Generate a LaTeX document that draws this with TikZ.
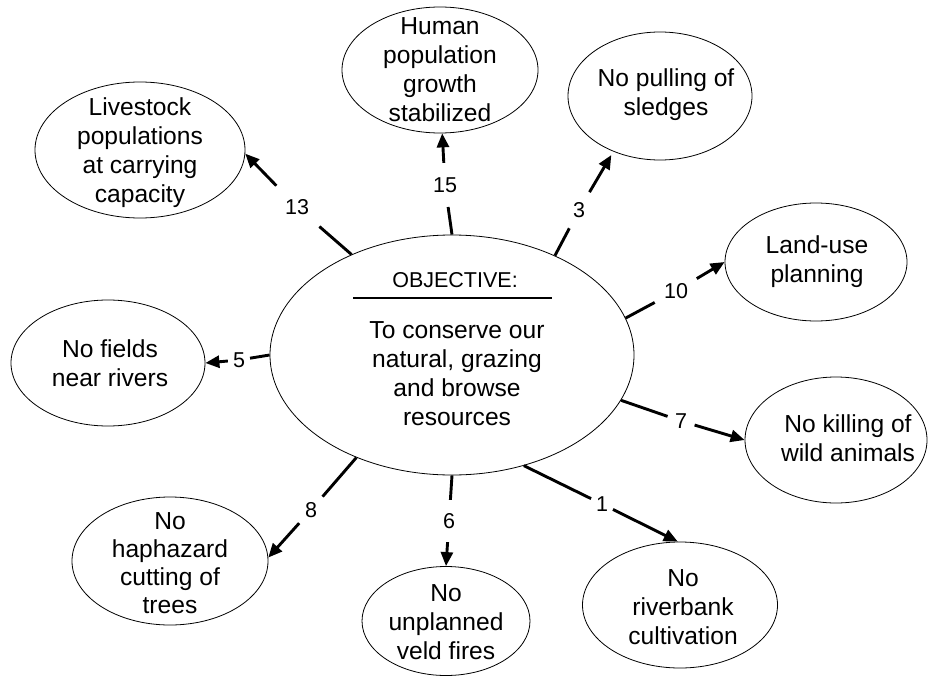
\documentclass[tikz,border=0pt]{standalone}
\usepackage{fontspec}
\setmainfont{Liberation Sans}
\usetikzlibrary{arrows.meta,shapes.geometric}
\begin{document}
\begin{tikzpicture}[x=1pt,y=-1pt,
  bubble/.style={draw, ellipse, line width=0.8pt, inner sep=0pt},
  txt/.style={align=center, font=\fontsize{24.6}{29}\selectfont, inner sep=0pt},
  num/.style={circle, inner sep=0pt, font=\fontsize{21.5}{25}\selectfont},
  link/.style={line width=2.9pt},
  arrowlink/.style={line width=2.9pt, -{Triangle[length=14pt,width=12pt]}}]
\useasboundingbox (0,0) rectangle (928,677);

% central objective
\node[bubble, minimum width=364pt, minimum height=240pt] (obj) at (452,355) {};
\node[font=\fontsize{21.5}{25}\selectfont, inner sep=0pt] (objhead) at (455,280) {OBJECTIVE:};
\draw[line width=1.2pt] (353,298) -- (552,298);
\node[txt] (objtext) at (457,374) {To conserve our\\natural, grazing\\and browse\\resources};

% surrounding outcomes
\node[bubble, minimum width=210pt, minimum height=136pt] (live) at (140,150) {};
\node[txt] (tlive) at (140,153) {Livestock\\populations\\at carrying\\capacity};

\node[bubble, minimum width=196pt, minimum height=126pt] (human) at (440,70) {};
\node[txt] (thuman) at (440,70) {Human\\population\\growth\\stabilized};

\node[bubble, minimum width=184pt, minimum height=128pt] (sledge) at (660,96) {};
\node[txt] (tsledge) at (666,95) {No pulling of\\sledges};

\node[bubble, minimum width=182pt, minimum height=118pt] (land) at (816,262) {};
\node[txt] (tland) at (817,262) {Land-use\\planning};

\node[bubble, minimum width=194pt, minimum height=126pt] (fields) at (108,363) {};
\node[txt] (tfields) at (110,363) {No fields\\near rivers};

\node[bubble, minimum width=182pt, minimum height=126pt] (kill) at (836,440) {};
\node[txt] (tkill) at (848,438) {No killing of\\wild animals};

\node[bubble, minimum width=196pt, minimum height=128pt] (hap) at (170,561) {};
\node[txt, font=\fontsize{24.6}{28}\selectfont] (thap) at (170,563) {No\\haphazard\\cutting of\\trees};

\node[bubble, minimum width=168pt, minimum height=109pt] (veld) at (446,621) {};
\node[txt] (tveld) at (446,622) {No\\unplanned\\veld fires};

\node[bubble, minimum width=195pt, minimum height=126pt] (river) at (680,605) {};
\node[txt] (triver) at (683,607) {No\\riverbank\\cultivation};

% connector labels
\node[num, minimum size=59pt] (l13) at (297,207) {13};
\node[num, minimum size=44pt] (l15) at (445,185) {15};
\node[num, minimum size=41pt] (l3)  at (579,210) {3};
\node[num, minimum size=48pt] (l10) at (676,291) {10};
\node[num, minimum size=22pt] (l5)  at (239,360) {5};
\node[num, minimum size=28pt] (l7)  at (681,421) {7};
\node[num, minimum size=35pt] (l8)  at (311,510) {8};
\node[num, minimum size=42pt] (l6)  at (449,521) {6};
\node[num, minimum size=24pt] (l1)  at (602,504) {1};

% connectors
\draw[link] (obj.135) -- (l13);  \draw[arrowlink] (l13) -- (live.-2);
\draw[link] (obj.90) -- (l15);   \draw[arrowlink] (l15) -- (human.-88);
\draw[link] (obj.44) -- (l3);    \draw[arrowlink, shorten >=4pt] (l3) -- (sledge.-130);
\draw[link] (obj.12) -- (l10);   \draw[arrowlink] (l10) -- (land.180);
\draw[link] (obj.180) -- (l5);   \draw[arrowlink] (l5) -- (fields.0);
\draw[link] (obj.-15) -- (l7);   \draw[arrowlink] (l7) -- (kill.180);
\draw[link] (obj.-133) -- (l8);  \draw[arrowlink] (l8) -- (hap.2);
\draw[link] (obj.-90) -- (l6);   \draw[arrowlink] (l6) -- (veld.90);
\draw[link] (obj.-57) -- (l1);   \draw[arrowlink] (l1) -- (river.92);
\end{tikzpicture}
\end{document}
